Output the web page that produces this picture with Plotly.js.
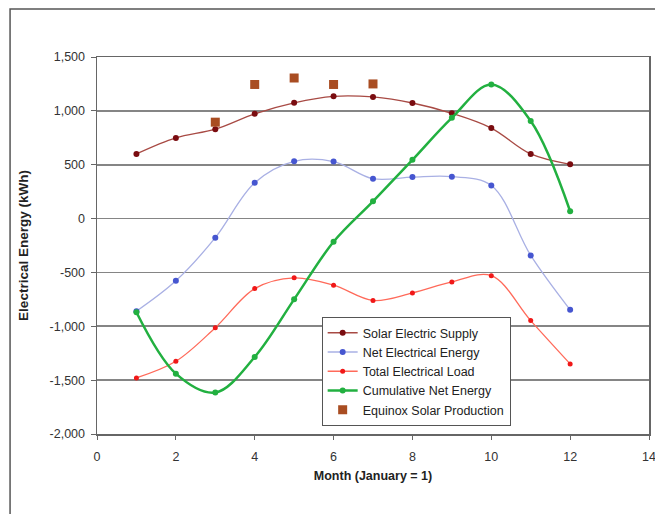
<!DOCTYPE html>
<html>
<head>
<meta charset="utf-8">
<script src="https://cdn.plot.ly/plotly-3.0.1.min.js"></script>
<style>
html,body{margin:0;padding:0;background:#fff;}
#chart{width:655px;height:514px;}
</style>
</head>
<body>
<div id="chart"></div>
<script>
var months = [1,2,3,4,5,6,7,8,9,10,11,12];
var solarSupply = [600, 749, 830, 973, 1075, 1135, 1129, 1073, 977, 840, 600, 504];
var netEnergy = [-860, -578, -177, 333, 532, 529, 370, 385, 389, 308, -342, -847];
var totalLoad = [-1479, -1325, -1013, -650, -550, -618, -760, -690, -588, -530, -947, -1349];
var cumulativeNet = [-870, -1440, -1615, -1285, -750, -215, 160, 545, 935, 1245, 905, 68];
var equinoxMonths = [3,4,5,6,7];
var equinoxProduction = [895, 1245, 1305, 1245, 1250];

var yTickVals = [-2000,-1500,-1000,-500,0,500,1000,1500];
var yTickText = ["-2,000","-1,500","-1,000","-500","0","500","1,000","1,500"];
var xTickVals = [0,2,4,6,8,10,12,14];

var traces = [
  {x: months, y: solarSupply, name: "Solar Electric Supply", type: "scatter", mode: "lines+markers",
   line: {color: "#a84a44", width: 1.3, shape: "spline", smoothing: 1},
   marker: {color: "#7a0c10", size: 6, symbol: "circle"}},
  {x: months, y: netEnergy, name: "Net Electrical Energy", type: "scatter", mode: "lines+markers",
   line: {color: "#a9b0e4", width: 1.3, shape: "spline", smoothing: 1},
   marker: {color: "#4656d0", size: 6, symbol: "circle"}},
  {x: months, y: totalLoad, name: "Total Electrical Load", type: "scatter", mode: "lines+markers",
   line: {color: "#ff6a5a", width: 1.3, shape: "spline", smoothing: 1},
   marker: {color: "#f01818", size: 5, symbol: "circle"}},
  {x: months, y: cumulativeNet, name: "Cumulative Net Energy", type: "scatter", mode: "lines+markers",
   line: {color: "#22b040", width: 2.5, shape: "spline", smoothing: 1},
   marker: {color: "#22b040", size: 6, symbol: "circle"}},
  {x: equinoxMonths, y: equinoxProduction, name: "Equinox Solar Production", type: "scatter", mode: "markers",
   marker: {color: "#a94d22", size: 9, symbol: "square"}}
];

var fontFam = "Liberation Sans, Arial, sans-serif";
var layout = {
  width: 655, height: 514,
  margin: {l: 97, r: 5.5, t: 57, b: 80},
  paper_bgcolor: "#ffffff",
  plot_bgcolor: "#ffffff",
  showlegend: true,
  font: {family: fontFam, size: 12.5, color: "#333"},
  xaxis: {
    range: [0, 14], tickvals: xTickVals, ticktext: xTickVals.map(String),
    showgrid: false, zeroline: false,
    showline: true, linecolor: "#666", linewidth: 1.5, mirror: true,
    ticks: "outside", ticklen: 4, tickcolor: "#666", tickwidth: 1,
    ticklabelstandoff: 6, ticklabeloverflow: "allow",
    tickfont: {family: fontFam, size: 12.5, color: "#333"},
    title: {text: "<b>Month (January = 1)</b>", font: {family: fontFam, size: 12.5, color: "#222"}, standoff: 8}
  },
  yaxis: {
    range: [-2000, 1500], tickvals: yTickVals, ticktext: yTickText,
    showgrid: true, gridcolor: "#858585", gridwidth: 1.6,
    zeroline: false,
    showline: true, linecolor: "#666", linewidth: 1.5, mirror: true,
    ticks: "outside", ticklen: 5, tickcolor: "#666", tickwidth: 1,
    ticklabelstandoff: 3,
    tickfont: {family: fontFam, size: 12.5, color: "#333"},
    title: {text: "<b>Electrical Energy (kWh)</b>", font: {family: fontFam, size: 13.5, color: "#222"}, standoff: 18}
  },
  legend: {
    x: 0.407, y: 0.31, xanchor: "left", yanchor: "top",
    bgcolor: "#ffffff", bordercolor: "#555", borderwidth: 1,
    font: {family: fontFam, size: 12.5, color: "#222"},
    traceorder: "normal", itemwidth: 30
  },
  shapes: [
    {type: "rect", xref: "paper", yref: "paper", x0: -0.1575, x1: 1.5, y0: -1, y1: 1.127,
     line: {color: "#555", width: 1.5}, layer: "below"}
  ]
};

Plotly.newPlot("chart", traces, layout, {staticPlot: true});
</script>
</body>
</html>
